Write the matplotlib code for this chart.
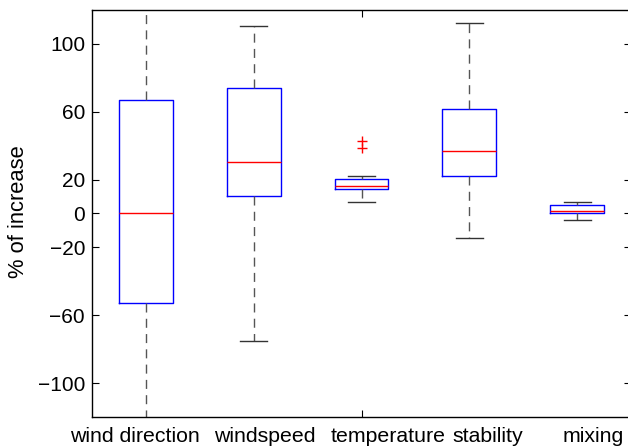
import matplotlib
matplotlib.use("Agg")
import matplotlib.pyplot as plt
import matplotlib.transforms as mtransforms

categories = ["wind direction", "windspeed", "temperature", "stability", "mixing"]
q1 = [-53.0, 10.4, 14.2, 22.2, 0.0]
med = [0.0, 30.1, 16.1, 36.6, 1.4]
q3 = [66.7, 74.0, 20.3, 61.8, 5.1]
whislo = [-160.0, -75.0, 6.7, -14.3, -3.7]
whishi = [160.0, 110.6, 22.0, 112.3, 6.7]
fliers = [[], [], [42.9, 38.6], [], []]
yticks = [-100, -60, -20, 0, 20, 60, 100]

plt.rcParams['font.family'] = ['Liberation Sans', 'DejaVu Sans']

fig = plt.figure(figsize=(6.28, 4.48), dpi=100)
ax = fig.add_axes([92/628, 31/448, (631-92)/628, 407/448])

stats = []
for i in range(len(categories)):
    stats.append(dict(med=med[i], q1=q1[i], q3=q3[i], whislo=whislo[i],
                      whishi=whishi[i], fliers=fliers[i], label=categories[i]))

ax.bxp(stats, positions=range(1, 6), widths=0.5,
       boxprops=dict(color='#0000ff', lw=1.0),
       medianprops=dict(color='#ff0000', lw=1.0),
       whiskerprops=dict(color='#555555', lw=1.0, linestyle=(0, (6.5, 4.5))),
       capprops=dict(color='#333333', lw=1.0),
       flierprops=dict(marker='+', markeredgecolor='#ff0000', markersize=7, markeredgewidth=1.0, linestyle='none'))

ax.set_xlim(0.5, 5.5)
ax.set_ylim(-120, 120)
ax.set_yticks(yticks)
ax.set_yticklabels([str(v).replace('-', '\u2212') for v in yticks], fontsize=15)
ax.tick_params(axis='y', direction='in', length=5, right=True, width=0.8, pad=5)
ax.set_xticks([])
ax.set_xticks([3], minor=True)
ax.tick_params(axis='x', which='minor', direction='in', length=5, top=True, bottom=True, labelbottom=False, width=0.8)
for s in ax.spines.values():
    s.set_linewidth(1.0)

label_x = [0.894, 2.10, 3.25, 4.17, 5.15]
trans = mtransforms.blended_transform_factory(ax.transData, fig.transFigure)
for x, lab in zip(label_x, categories):
    ax.text(x, 1 - 441.5/448, lab, transform=trans, ha='center', va='baseline', fontsize=15.3, clip_on=False)

fig.text(19/628, 1 - 212/448, "% of increase", rotation=90, ha='center', va='center', fontsize=15.8)

fig.savefig("out.png", dpi=100)
